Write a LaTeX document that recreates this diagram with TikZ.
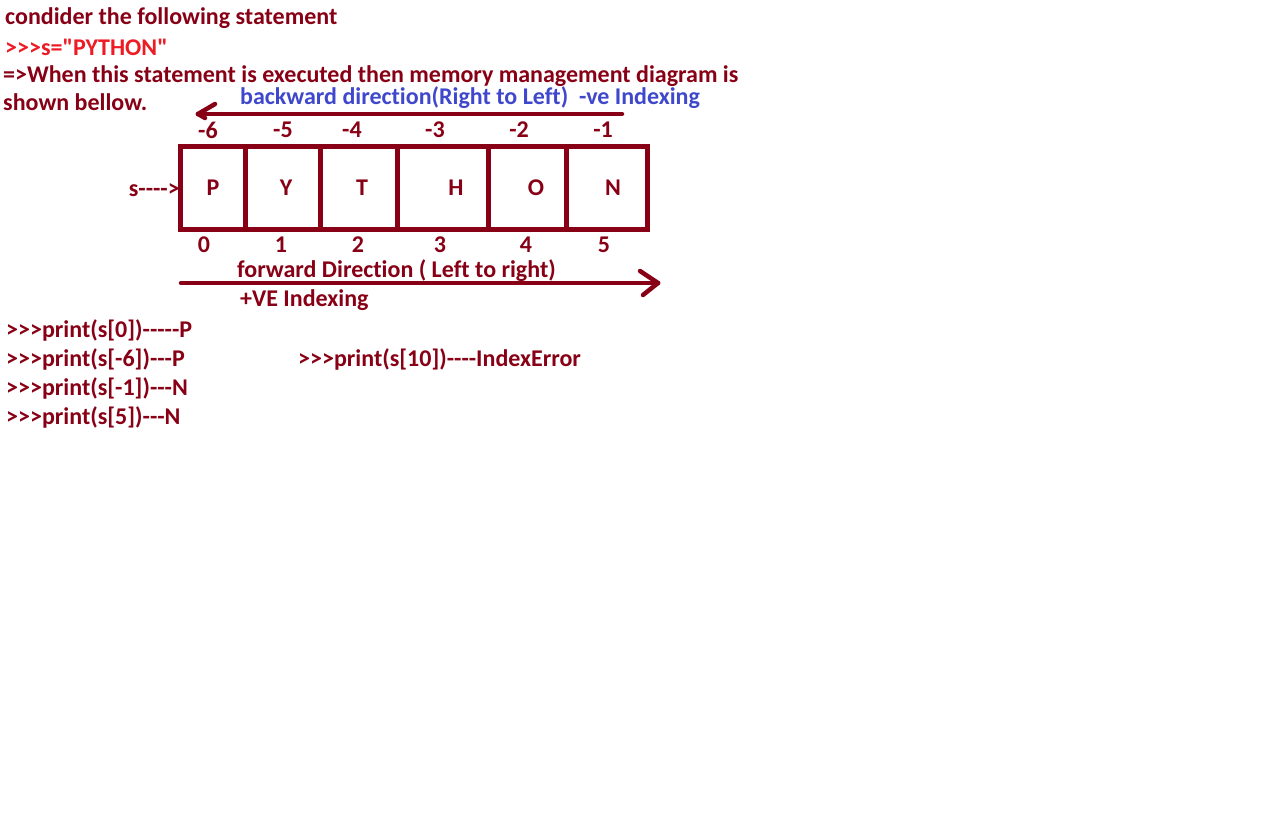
\documentclass[tikz,border=0pt]{standalone}
\usepackage{fontspec}
\setmainfont{Carlito}[Ligatures={TeXOff,NoCommon}]
\usetikzlibrary{arrows.meta,positioning}
\definecolor{pydarkred}{RGB}{136,0,21}
\definecolor{pyred}{RGB}{237,28,36}
\definecolor{pyblue}{RGB}{63,72,204}
\tikzstyle{note} = [anchor=base west, inner sep=0pt, font=\fontsize{24}{28}\selectfont\bfseries, text=pydarkred]
\tikzstyle{index} = [anchor=center, inner sep=0pt, font=\fontsize{24}{28}\selectfont\bfseries, text=pydarkred]
\tikzstyle{cell} = [rectangle, draw=pydarkred, line width=5pt, minimum height=83pt, anchor=north west, inner sep=0pt, outer sep=0pt]
\tikzstyle{arrow} = [line width=4.5pt, color=pydarkred, line cap=round]

\begin{document}
\begin{tikzpicture}[x=1pt,y=-1pt]
\useasboundingbox[fill=white] (0,0) rectangle (1266,823);

% Statement
\node (intro) [note] at (5,24) {condider the following statement};
\node (assign) [note, text=pyred] at (5,55) {>>>s="PYTHON"};
\node (explain) [note] at (3,82) {=>When this statement is executed then memory management diagram is};
\node (explain2) [note] at (3,110) {shown bellow.};

% Backward direction
\node (backlabel) [note, text=pyblue] at (240,104) {backward direction(Right to Left)\ \ -ve Indexing};
\coordinate (backstart) at (622,114);
\coordinate (backend) at (198,114);
\draw[arrow] (backstart) -- (backend);
\draw[arrow] (backend) -- ++(17,-10);
\draw[arrow] (backend) -- ++(7,4);

% Negative indices
\node (neg6) [index] at (208,130) {-6};
\node (neg5) [index] at (283,130) {-5};
\node (neg4) [index] at (352,130) {-4};
\node (neg3) [index] at (435,130) {-3};
\node (neg2) [index] at (519,130) {-2};
\node (neg1) [index] at (603,130) {-1};

% Memory cells
\node (cellP) [cell, minimum width=65pt] at (180,146) {};
\node (cellY) [cell, minimum width=75pt] at (cellP.north east) {};
\node (cellT) [cell, minimum width=77pt] at (cellY.north east) {};
\node (cellH) [cell, minimum width=91pt] at (cellT.north east) {};
\node (cellO) [cell, minimum width=78pt] at (cellH.north east) {};
\node (cellN) [cell, minimum width=81pt] at (cellO.north east) {};

\node (charP) [index] at (213,188) {P};
\node (charY) [index] at (286,188) {Y};
\node (charT) [index] at (362,188) {T};
\node (charH) [index] at (456,188) {H};
\node (charO) [index] at (536,188) {O};
\node (charN) [index] at (613,188) {N};

% Variable
\node (var) [index, anchor=east] at ([yshift=-3pt]cellP.west) {s---->};

% Positive indices
\node (pos0) [index] at (204,245) {0};
\node (pos1) [index] at (281,245) {1};
\node (pos2) [index] at (358,245) {2};
\node (pos3) [index] at (440,245) {3};
\node (pos4) [index] at (526,245) {4};
\node (pos5) [index] at (604,245) {5};

% Forward direction
\node (forwlabel) [note] at (237,277) {forward Direction ( Left to right)};
\coordinate (forwstart) at (181,283);
\coordinate (forwend) at (658,283);
\draw[arrow] (forwstart) -- (forwend);
\draw[arrow] (forwend) -- ++(-18,-12);
\draw[arrow] (forwend) -- ++(-15,12);
\node (poslabel) [note] at (240,306) {+VE Indexing};

% Examples
\node (ex1) [note] at (6,337) {>>>print(s[0])-----P};
\node (ex2) [note] at (6,366) {>>>print(s[-6])---P};
\node (ex3) [note] at (6,395) {>>>print(s[-1])---N};
\node (ex4) [note] at (6,424) {>>>print(s[5])---N};
\node (ex5) [note] at (298,366) {>>>print(s[10])----IndexError};
\end{tikzpicture}
\end{document}
